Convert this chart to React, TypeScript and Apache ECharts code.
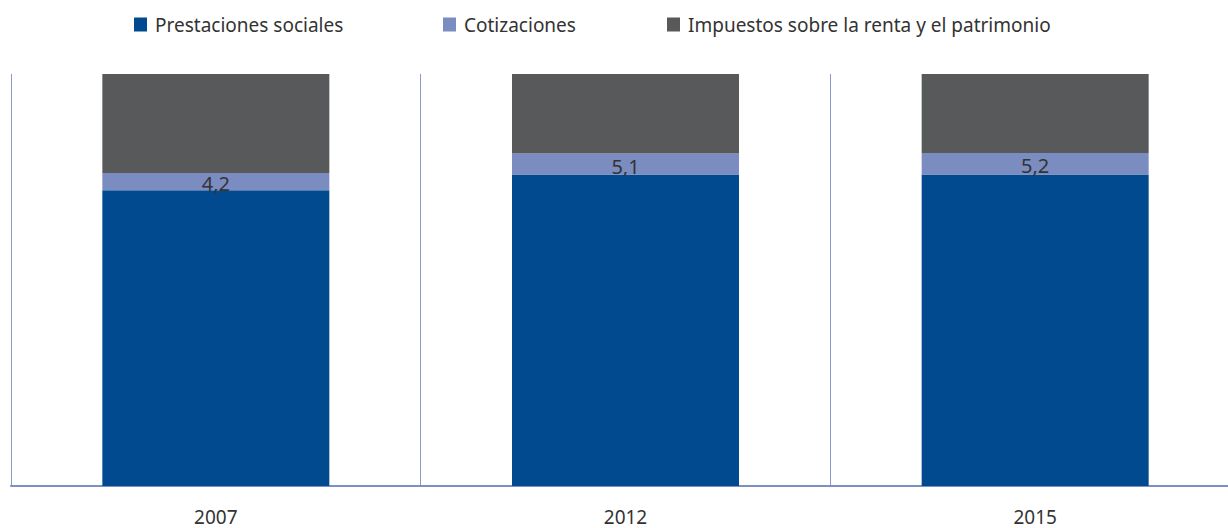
import React, { useEffect, useRef } from "react";
import * as echarts from "echarts";

const categories = ["2007", "2012", "2015"];
const prestaciones = [71.8, 75.6, 75.6];
const cotizaciones = [4.2, 5.1, 5.2];
const impuestos = [24.0, 19.3, 19.2];
const seriesNames = [
  "Prestaciones sociales",
  "Cotizaciones",
  "Impuestos sobre la renta y el patrimonio",
];
const colors = ["#024A90", "#7B8CC1", "#58595B"];
const legendLefts = [134, 443, 667];

export default function App() {
  const ref = useRef<HTMLDivElement>(null);
  useEffect(() => {
    if (!ref.current) return;
    const chart = echarts.init(ref.current, undefined, { renderer: "svg" });
    const font = "'Noto Sans', 'Open Sans', sans-serif";
    chart.setOption({
      animation: false,
      color: colors,
      textStyle: { fontFamily: font },
      legend: seriesNames.map((n, i) => ({
        top: 15,
        left: legendLefts[i],
        padding: 0,
        itemWidth: 13,
        itemHeight: 14,
        icon: "rect",
        textStyle: { fontSize: 19, color: "#333333", fontFamily: font, padding: [0, 0, 0, 3] },
        data: [n],
      })),
      grid: { left: 11, top: 74, right: 0, bottom: 42 },
      xAxis: {
        type: "category",
        data: categories,
        axisLine: { lineStyle: { color: "#7F8FC2", width: 2 } },
        axisTick: { show: false },
        splitLine: { show: true, lineStyle: { color: "#8B99C8", width: 1 } },
        axisLabel: { fontSize: 19, color: "#333333", margin: 21, fontFamily: font },
      },
      yAxis: {
        type: "value",
        min: 0,
        max: 100,
        axisLine: { show: false },
        axisTick: { show: false },
        axisLabel: { show: false },
        splitLine: { show: false },
      },
      series: [
        {
          name: seriesNames[0],
          type: "bar",
          stack: "t",
          barWidth: 227,
          data: prestaciones,
        },
        {
          name: seriesNames[1],
          type: "bar",
          stack: "t",
          barWidth: 227,
          data: cotizaciones,
          label: {
            show: true,
            position: "inside",
            offset: [0, 2],
            fontSize: 20,
            color: "#333333",
            fontFamily: font,
            formatter: (p: any) => String(p.value).replace(".", ","),
          },
        },
        {
          name: seriesNames[2],
          type: "bar",
          stack: "t",
          barWidth: 227,
          data: impuestos,
        },
      ],
    });
    return () => chart.dispose();
  }, []);
  return (
    <div
      style={{ position: "fixed", left: 0, top: 0, width: 1228, height: 528, overflow: "hidden", background: "#fff" }}
    >
      <div ref={ref} style={{ width: 1240, height: 528 }} />
    </div>
  );
}
